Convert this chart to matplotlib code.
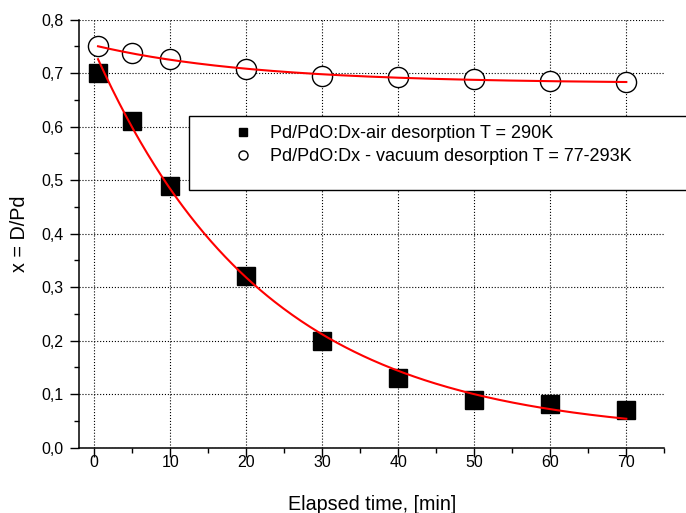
import matplotlib
matplotlib.use('Agg')
import matplotlib.pyplot as plt
import numpy as np
from matplotlib.ticker import MultipleLocator, FuncFormatter
from matplotlib.patches import Rectangle

plt.rcParams['font.family'] = ['Liberation Sans', 'DejaVu Sans']

# measured points
time_air = [0.5, 5, 10, 20, 30, 40, 50, 60, 70]
x_air = [0.70, 0.61, 0.49, 0.32, 0.20, 0.131, 0.09, 0.082, 0.07]
time_vac = [0.5, 5, 10, 20, 30, 40, 50, 60, 70]
x_vac = [0.750, 0.738, 0.727, 0.707, 0.695, 0.692, 0.689, 0.685, 0.6835]

# ExpDec1 fit parameters (y0, A, t1)
fit_air = (0.022, 0.72, 22.5)
fit_vac = (0.681, 0.071, 21.0)

label_air = 'Pd/PdO:Dx-air desorption T = 290K'
label_vac = 'Pd/PdO:Dx - vacuum desorption T = 77-293K'

fig = plt.figure(figsize=(6.86, 5.13), dpi=100)
ax = fig.add_axes([0.1152, 0.1273, 0.8532, 0.8343])

tt = np.linspace(0.5, 70, 300)
y0, A, t1 = fit_air
ax.plot(tt, y0 + A * np.exp(-tt / t1), color='red', lw=1.5, zorder=4)
y0, A, t1 = fit_vac
ax.plot(tt, y0 + A * np.exp(-tt / t1), color='red', lw=1.5, zorder=4)

ax.plot(time_air, x_air, ls='none', marker='s', ms=13.5, mfc='black',
        mec='black', label=label_air, zorder=3)
ax.plot(time_vac, x_vac, ls='none', marker='o', ms=14.5, mfc='white',
        mec='black', mew=1.0, label=label_vac, zorder=3)

ax.set_xlim(-2, 75)
ax.set_ylim(0, 0.8)
ax.xaxis.set_major_locator(MultipleLocator(10))
ax.xaxis.set_minor_locator(MultipleLocator(5))
ax.yaxis.set_major_locator(MultipleLocator(0.1))
ax.yaxis.set_minor_locator(MultipleLocator(0.05))
ax.yaxis.set_major_formatter(FuncFormatter(lambda v, p: f'{v:.1f}'.replace('.', ',')))

ax.spines['top'].set_visible(False)
ax.spines['right'].set_visible(False)
for s in ['left', 'bottom']:
    ax.spines[s].set_linewidth(1.1)
ax.tick_params(which='major', direction='out', length=6.5, width=1.0, labelsize=11.5)
ax.tick_params(which='minor', direction='out', length=3.6, width=1.0)
ax.tick_params(axis='x', which='major', pad=-1.5)
ax.tick_params(axis='y', which='major', pad=4.5)

ax.grid(True, which='major', ls=':', color='black', lw=0.8)
ax.set_axisbelow(True)
ax.yaxis.get_gridlines()[-1].set_visible(False)

ax.set_xlabel('Elapsed time, [min]', fontsize=14.2, labelpad=18)
ax.set_ylabel('x = D/Pd', fontsize=14.2, labelpad=9)

# legend frame running off the right edge
fig.patches.append(Rectangle((189 / 686, 1 - 190 / 513), 0.8, 74 / 513,
                             transform=fig.transFigure, facecolor='white',
                             edgecolor='black', lw=1.0, zorder=5))
leg = fig.legend(loc='upper left', bbox_to_anchor=(229.5 / 686, 1 - 125 / 513),
                 frameon=False, fontsize=13, markerscale=0.45,
                 handlelength=1.5, handletextpad=0.75, labelspacing=0.33,
                 borderpad=0, borderaxespad=0)
leg.set_zorder(6)

fig.savefig('out.png', dpi=100)
